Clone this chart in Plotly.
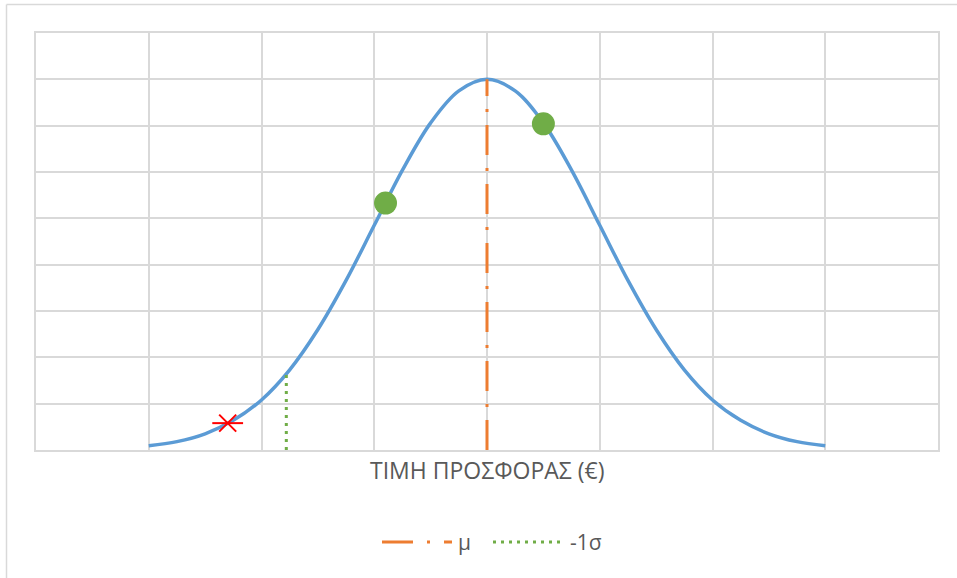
import plotly.graph_objects as go

# Curve (x in standard deviations from the mean, y in grid units)
curve_x = [-3.0, -2.75, -2.5, -2.25, -2.0, -1.75, -1.5, -1.25, -1.0, -0.75, -0.5, -0.25,
           0.0, 0.25, 0.5, 0.75, 1.0, 1.25, 1.5, 1.75, 2.0, 2.25, 2.5, 2.75, 3.0]
curve_y = [0.09, 0.18, 0.35, 0.64, 1.08, 1.73, 2.60, 3.66, 4.85, 6.04, 7.06, 7.75,
           8.00, 7.75, 7.06, 6.04, 4.85, 3.66, 2.60, 1.73, 1.08, 0.64, 0.35, 0.18, 0.09]

mu_x = [0.0, 0.0]
mu_y = [0.0, 8.0]

sigma_x = [-1.78, -1.78]
sigma_y = [0.0, 1.70]

dots_x = [-0.9, 0.5]
dots_y = [5.33, 7.04]

star_x = [-2.3]
star_y = [0.58]

legend_names = ["μ", "-1σ"]
axis_title = "ΤΙΜΗ ΠΡΟΣΦΟΡΑΣ (€)"

BLUE = "#5b9bd5"
ORANGE = "#ed7d31"
GREEN = "#70ad47"
RED = "#ff0000"
GRID = "#d9d9d9"
TXT = "#595959"
FONT = "Open Sans"

fig = go.Figure()
fig.add_trace(go.Scatter(x=curve_x, y=curve_y, mode="lines",
                         line=dict(color=BLUE, width=3.5, shape="spline"),
                         showlegend=False, hoverinfo="skip"))
fig.add_trace(go.Scatter(x=mu_x, y=mu_y, mode="lines",
                         line=dict(color=ORANGE, width=3, dash="30px,13px,3px,13px"),
                         name=legend_names[0], showlegend=False))
fig.add_trace(go.Scatter(x=sigma_x, y=sigma_y, mode="lines",
                         line=dict(color=GREEN, width=3, dash="3px,5px"),
                         name=legend_names[1], showlegend=False))
fig.add_trace(go.Scatter(x=dots_x, y=dots_y, mode="markers",
                         marker=dict(color=GREEN, size=23),
                         showlegend=False))
fig.add_trace(go.Scatter(x=star_x, y=star_y, mode="markers",
                         marker=dict(symbol="x-thin-open", size=17, color=RED,
                                     line=dict(color=RED, width=2)),
                         showlegend=False))
fig.add_trace(go.Scatter(x=star_x, y=star_y, mode="markers",
                         marker=dict(symbol="line-ew-open", size=22, color=RED,
                                     line=dict(color=RED, width=2)),
                         showlegend=False))

W, H = 957, 578
L, R, T, B = 36, 19, 33, 128
pw, ph = W - L - R, H - T - B


def px(xp):
    return (xp - L) / pw


def py(yp):
    return (H - B - yp) / ph


shapes = [
    # chart-area border (left and top visible)
    dict(type="line", xref="paper", yref="paper", x0=px(6.5), x1=px(6.5),
         y0=py(4.5), y1=py(600), line=dict(color=GRID, width=1.5)),
    dict(type="line", xref="paper", yref="paper", x0=px(6.5), x1=px(990),
         y0=py(4.5), y1=py(4.5), line=dict(color=GRID, width=1.5)),
    # legend samples
    dict(type="line", xref="paper", yref="paper", x0=px(382), x1=px(452),
         y0=py(542), y1=py(542),
         line=dict(color=ORANGE, width=3, dash="31px,14px,3px,14px")),
    dict(type="line", xref="paper", yref="paper", x0=px(493), x1=px(563),
         y0=py(542), y1=py(542),
         line=dict(color=GREEN, width=3, dash="3px,5px")),
]

annotations = [
    dict(text=axis_title, xref="paper", yref="paper", x=px(487.5), y=py(470),
         xanchor="center", yanchor="middle", showarrow=False,
         font=dict(family=FONT, size=23, color=TXT)),
    dict(text=legend_names[0], xref="paper", yref="paper", x=px(456), y=py(542),
         xanchor="left", yanchor="middle", showarrow=False,
         font=dict(family=FONT, size=21, color=TXT)),
    dict(text=legend_names[1], xref="paper", yref="paper", x=px(568), y=py(542),
         xanchor="left", yanchor="middle", showarrow=False,
         font=dict(family=FONT, size=21, color=TXT)),
]

fig.update_layout(
    width=W, height=H,
    margin=dict(l=L, r=R, t=T, b=B, pad=0),
    paper_bgcolor="white", plot_bgcolor="white",
    showlegend=False,
    shapes=shapes, annotations=annotations,
    xaxis=dict(range=[-4, 4], dtick=1, tick0=0, showticklabels=False, ticks="",
               showgrid=True, gridcolor=GRID, gridwidth=1.5, zeroline=False,
               showline=True, mirror=True, linecolor=GRID, linewidth=1.5),
    yaxis=dict(range=[0, 9], dtick=1, tick0=0, showticklabels=False, ticks="",
               showgrid=True, gridcolor=GRID, gridwidth=1.5, zeroline=False,
               showline=True, mirror=True, linecolor=GRID, linewidth=1.5),
)

fig.write_html("out.html",
               config={"displayModeBar": False},
               post_script="document.body.style.margin='0px';"
                           "document.body.style.overflow='hidden';")
